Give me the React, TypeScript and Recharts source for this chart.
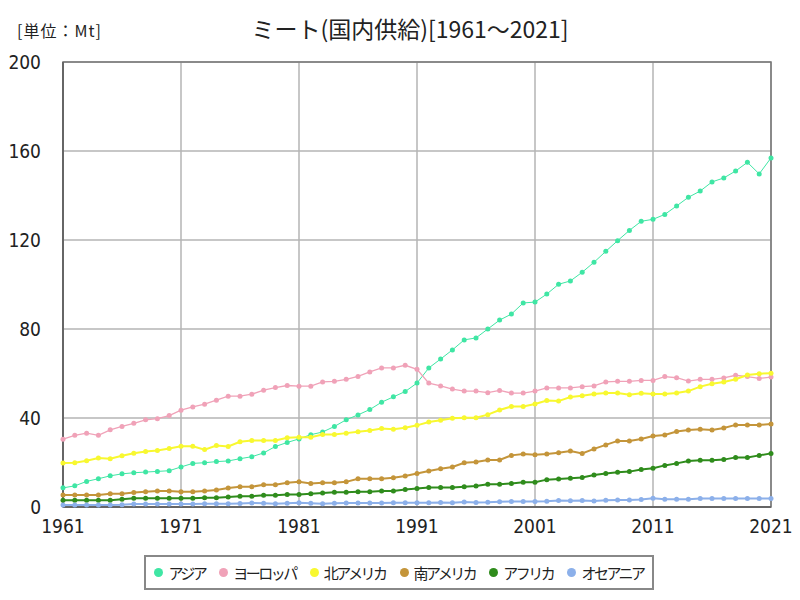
import {
  LineChart,
  Line,
  XAxis,
  YAxis,
  CartesianGrid,
  ReferenceArea,
} from 'recharts';

const years = [
  1961, 1962, 1963, 1964, 1965, 1966, 1967, 1968, 1969, 1970,
  1971, 1972, 1973, 1974, 1975, 1976, 1977, 1978, 1979, 1980,
  1981, 1982, 1983, 1984, 1985, 1986, 1987, 1988, 1989, 1990,
  1991, 1992, 1993, 1994, 1995, 1996, 1997, 1998, 1999, 2000,
  2001, 2002, 2003, 2004, 2005, 2006, 2007, 2008, 2009, 2010,
  2011, 2012, 2013, 2014, 2015, 2016, 2017, 2018, 2019, 2020,
  2021,
];

const asia = [
  8.6, 9.5, 11.5, 12.7, 14.0, 14.9, 15.4, 15.7, 16.0, 16.3,
  18.0, 19.6, 19.9, 20.4, 20.7, 21.7, 22.6, 24.3, 27.2, 29.0,
  30.6, 32.5, 33.7, 36.2, 39.2, 41.4, 43.8, 47.1, 49.5, 51.9,
  55.7, 62.5, 66.5, 70.6, 75.1, 76.0, 80.0, 84.0, 86.7, 91.7,
  92.1, 95.7, 100.1, 101.6, 105.5, 110.0, 114.9, 119.7, 124.3, 128.4,
  129.3, 131.5, 135.3, 139.2, 142.0, 146.1, 147.9, 151.0, 154.9, 149.7,
  156.9,
];

const europe = [
  30.5, 32.2, 33.2, 32.2, 34.7, 36.2, 37.6, 39.2, 39.7, 41.1,
  43.5, 45.0, 46.2, 48.0, 49.8, 49.8, 50.7, 52.5, 53.7, 54.6,
  54.3, 54.3, 56.2, 56.5, 57.4, 58.7, 60.7, 62.5, 62.5, 63.7,
  61.9, 55.7, 54.4, 53.0, 52.1, 52.1, 51.4, 52.4, 51.2, 51.2,
  52.1, 53.5, 53.5, 53.5, 54.1, 54.4, 56.2, 56.5, 56.5, 56.9,
  56.9, 58.6, 58.1, 56.6, 57.4, 57.4, 58.0, 59.2, 58.6, 57.8,
  58.4,
];

const northAmerica = [
  19.8, 19.9, 20.8, 22.0, 21.7, 23.0, 24.2, 24.9, 25.4, 26.3,
  27.3, 27.3, 25.8, 27.6, 27.2, 29.3, 29.9, 29.9, 29.9, 31.1,
  31.4, 31.4, 32.6, 32.6, 33.2, 33.8, 34.4, 35.3, 35.0, 35.6,
  36.7, 38.2, 39.0, 39.9, 40.1, 40.1, 41.5, 43.6, 45.2, 45.2,
  46.3, 47.9, 47.6, 49.4, 50.0, 50.8, 51.2, 51.2, 50.5, 51.1,
  50.8, 50.8, 51.2, 52.1, 54.1, 55.4, 56.2, 57.4, 59.3, 59.9,
  60.1,
];

const southAmerica = [
  5.4, 5.4, 5.4, 5.4, 6.0, 6.0, 6.5, 6.9, 7.2, 7.2,
  6.8, 6.8, 7.2, 7.6, 8.5, 9.1, 9.1, 10.0, 10.0, 10.9,
  11.3, 10.6, 10.9, 10.9, 11.3, 12.7, 12.7, 12.7, 13.1, 13.9,
  15.1, 16.2, 17.2, 18.0, 19.9, 20.2, 21.1, 21.1, 23.2, 23.8,
  23.5, 23.8, 24.4, 25.2, 24.1, 26.1, 27.9, 29.7, 29.7, 30.6,
  31.9, 32.4, 33.9, 34.6, 34.9, 34.6, 35.5, 36.9, 36.9, 36.9,
  37.3,
];

const africa = [
  3.0, 3.0, 3.0, 3.0, 3.0, 3.5, 3.9, 3.9, 3.9, 3.9,
  3.9, 3.9, 4.2, 4.2, 4.5, 4.8, 4.8, 5.3, 5.3, 5.6,
  5.6, 6.0, 6.3, 6.6, 6.6, 6.9, 6.9, 7.2, 7.2, 7.9,
  8.3, 8.8, 8.8, 8.8, 9.1, 9.4, 10.2, 10.2, 10.6, 11.1,
  11.1, 12.3, 12.6, 12.9, 13.3, 14.4, 15.1, 15.6, 15.9, 16.9,
  17.4, 18.7, 19.6, 20.7, 21.0, 21.0, 21.3, 22.3, 22.3, 23.2,
  24.1,
];

const oceania = [
  0.9, 0.9, 0.9, 0.9, 0.9, 1.0, 1.4, 1.4, 1.4, 1.4,
  1.4, 1.4, 1.5, 1.5, 1.5, 1.6, 1.8, 1.7, 1.5, 1.7,
  1.9, 1.7, 1.5, 1.7, 1.8, 1.8, 1.8, 1.8, 1.9, 1.9,
  1.9, 1.9, 2.0, 1.9, 2.2, 2.0, 2.1, 2.4, 2.5, 2.5,
  2.5, 2.6, 2.9, 2.8, 2.9, 2.7, 3.0, 3.2, 3.2, 3.4,
  3.9, 3.5, 3.5, 3.5, 3.8, 3.8, 3.8, 3.8, 3.8, 3.8,
  3.8,
];

const xTicks = [1961, 1971, 1981, 1991, 2001, 2011, 2021];
const yTicks = [0, 40, 80, 120, 160, 200];

const series = [
  { key: 'asia', name: 'アジア', color: '#3fe6a4', width: 1 },
  { key: 'europe', name: 'ヨーロッパ', color: '#f0a2b8', width: 1.3 },
  { key: 'northAmerica', name: '北アメリカ', color: '#f8f830', width: 2 },
  { key: 'southAmerica', name: '南アメリカ', color: '#c4953a', width: 2 },
  { key: 'africa', name: 'アフリカ', color: '#2f8c1c', width: 2 },
  { key: 'oceania', name: 'オセアニア', color: '#8cb0ea', width: 2 },
];

const data = years.map((year, i) => ({
  year,
  asia: asia[i],
  europe: europe[i],
  northAmerica: northAmerica[i],
  southAmerica: southAmerica[i],
  africa: africa[i],
  oceania: oceania[i],
}));

const numFont = '"Liberation Sans Narrow", "DejaVu Sans Condensed", "Liberation Sans", sans-serif';
const jpFont = '"Noto Sans CJK JP", sans-serif';

export default function App() {
  return (
    <div style={{ position: 'absolute', left: 0, top: 0, width: 800, height: 600, background: '#fff' }}>
      <div
        style={{
          position: 'absolute',
          left: 17,
          top: 18,
          fontFamily: jpFont,
          fontSize: 16,
          letterSpacing: 1,
          color: '#222',
          whiteSpace: 'nowrap',
        }}
      >
        [単位：Mt]
      </div>
      <div
        style={{
          position: 'absolute',
          left: 0,
          width: 820,
          top: 11,
          textAlign: 'center',
          fontFamily: jpFont,
          fontSize: 23,
          color: '#222',
          whiteSpace: 'nowrap',
        }}
      >
        ミート(国内供給)[1961～2021]
      </div>
      <LineChart width={800} height={600} data={data} margin={{ top: 62, right: 29, bottom: 63, left: 0 }}>
        <CartesianGrid stroke="#b4b4b4" strokeWidth={1.5} />
        <XAxis
          dataKey="year"
          type="number"
          domain={[1961, 2021]}
          ticks={xTicks}
          height={30}
          tickSize={0}
          tickMargin={13}
          axisLine={{ stroke: '#666', strokeWidth: 2 }}
          tick={{ fontSize: 19, fill: '#222', fontFamily: numFont }}
          interval={0}
        />
        <YAxis
          type="number"
          domain={[0, 200]}
          ticks={yTicks}
          width={63}
          tickLine={false}
          axisLine={{ stroke: '#666', strokeWidth: 2 }}
          tick={{ fontSize: 19, fill: '#222', fontFamily: numFont, dx: -14 }}
          interval={0}
        />
        <ReferenceArea x1={1961} x2={2021} y1={0} y2={200} fill="none" stroke="#777" strokeWidth={1.5} />
        {series.map((s) => (
          <Line
            key={s.key}
            dataKey={s.key}
            name={s.name}
            stroke={s.color}
            strokeWidth={s.width}
            dot={{ r: 2.5, fill: s.color, stroke: 'none' }}
            activeDot={false}
            isAnimationActive={false}
          />
        ))}
      </LineChart>
      <div
        style={{
          position: 'absolute',
          left: 144,
          top: 555,
          width: 506,
          height: 31,
          border: '2px solid #888',
          display: 'flex',
          alignItems: 'center',
          justifyContent: 'center',
          gap: 14,
          fontFamily: jpFont,
          fontSize: 15,
          letterSpacing: -2.5,
          color: '#222',
          whiteSpace: 'nowrap',
        }}
      >
        {series.map((s) => (
          <span key={s.key} style={{ display: 'flex', alignItems: 'center', flexShrink: 0 }}>
            <span
              style={{
                display: 'inline-block',
                width: 9,
                height: 9,
                borderRadius: '50%',
                background: s.color,
                marginRight: 5,
              }}
            />
            {s.name}
          </span>
        ))}
      </div>
    </div>
  );
}
